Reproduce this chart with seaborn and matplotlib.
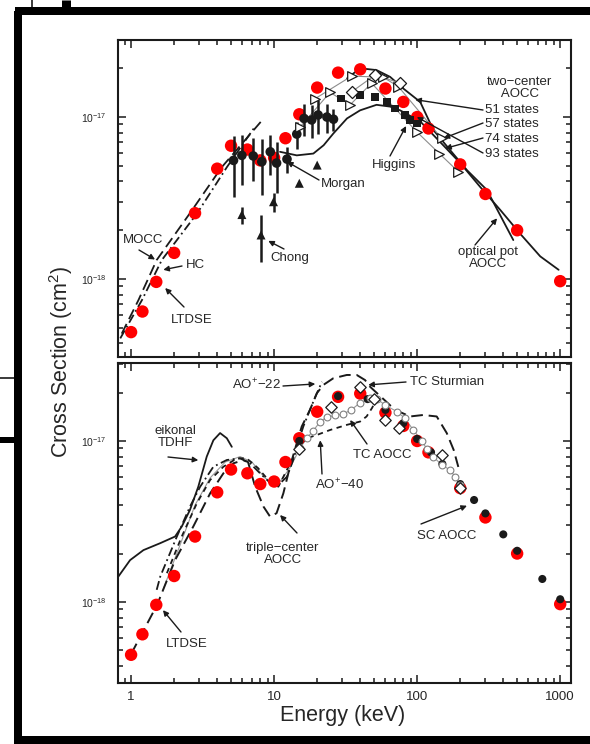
import numpy as np
import pandas as pd
import matplotlib
matplotlib.use("Agg")
import matplotlib.pyplot as plt
from matplotlib.lines import Line2D
from matplotlib.ticker import LogLocator, FixedLocator, FixedFormatter, NullFormatter
import seaborn as sns

# ---------------- data (energy in keV, cross section in cm^2) ----------------
# LTDSE (red dots) - same points in both panels
ltdse_e = [1, 1.2, 1.5, 2, 2.8, 4, 5, 6.5, 8, 10, 12, 15, 20, 28, 40, 60, 80, 100, 120, 200, 300, 500, 1000]
ltdse_s = [4.7e-19, 6.3e-19, 9.6e-19, 1.45e-18, 2.55e-18, 4.8e-18, 6.65e-18, 6.3e-18, 5.4e-18, 5.6e-18,
           7.4e-18, 1.04e-17, 1.52e-17, 1.88e-17, 1.97e-17, 1.5e-17, 1.24e-17, 1.0e-17, 8.5e-18, 5.1e-18,
           3.35e-18, 2.0e-18, 9.7e-19]

# top panel: experiments
morgan_e = [5.2, 5.95, 7.15, 8.2, 9.4, 10.4, 12.3, 14.4, 16.2, 18.3, 20.3, 23.4, 26.0]
morgan_s = [5.4e-18, 5.8e-18, 5.75e-18, 5.3e-18, 6.1e-18, 5.2e-18, 5.5e-18, 7.85e-18, 9.8e-18, 9.6e-18,
            1.03e-17, 1.0e-17, 9.7e-18]
morgan_err = [2.2e-18, 2.0e-18, 1.7e-18, 2.0e-18, 1.7e-18, 1.8e-18, 1.0e-18, 1.5e-18, 2.2e-18, 2.2e-18,
              2.4e-18, 2.0e-18, 1.5e-18]

chong_e = [5.95, 8.1, 9.9, 15.0, 20.0]
chong_s = [2.5e-18, 1.87e-18, 3.0e-18, 3.9e-18, 5.05e-18]
chong_err = [0.3e-18, 0.6e-18, 0.4e-18, 0.0, 0.0]

higgins_e = [29.4, 39.9, 50.9, 61.5, 70.3, 82.4, 89.3, 99.5]
higgins_s = [1.3e-17, 1.37e-17, 1.33e-17, 1.24e-17, 1.13e-17, 1.03e-17, 9.6e-18, 9.1e-18]

# top panel: theory
mocc_e = [0.86, 1.125, 1.51, 2.58, 4.3, 8.2]
mocc_s = [4.6e-19, 7.4e-19, 1.31e-18, 2.55e-18, 4.9e-18, 9.5e-18]
hc_e = [0.84, 1.19, 1.64, 2.9, 4.67, 7.2]
hc_s = [4.3e-19, 7.4e-19, 1.31e-18, 2.55e-18, 4.9e-18, 8.5e-18]

tc51_e = [32.3, 39.9, 52, 64.7, 80, 105, 130, 170, 223, 307, 470]
tc51_s = [1.73e-17, 2.0e-17, 1.95e-17, 1.77e-17, 1.5e-17, 1.24e-17, 8.3e-18, 6.25e-18, 4.7e-18, 3.55e-18, 1.74e-18]
tc57_e = [34.8, 50.9, 76]
tc57_s = [1.43e-17, 1.82e-17, 1.62e-17]
tc74_e = [19.4, 34.8, 58, 74, 148]
tc74_s = [1.3e-17, 1.79e-17, 1.76e-17, 1.54e-17, 7.4e-18]
tc93_e = [15.2, 24.6, 34, 48, 99.5, 143, 194]
tc93_s = [8.7e-18, 1.42e-17, 1.19e-17, 1.62e-17, 8.1e-18, 5.95e-18, 4.6e-18]

optpot_e = [11.0, 14.4, 18.8, 22.2, 25.9, 32.3, 39.9, 52, 64.7, 76, 105, 145, 200, 276, 381, 526, 725, 975]
optpot_s = [6.1e-18, 5.8e-18, 5.95e-18, 6.7e-18, 7.9e-18, 9.8e-18, 1.1e-17, 1.19e-17, 1.16e-17, 1.1e-17,
            9.4e-18, 7.0e-18, 5.2e-18, 3.7e-18, 2.67e-18, 1.9e-18, 1.38e-18, 1.14e-18]

# bottom panel
eik_e = [0.815, 0.984, 1.22, 1.6, 2.03, 2.26, 2.58, 2.95, 3.38, 3.76, 4.19, 4.67, 5.06]
eik_s = [1.44e-18, 1.82e-18, 2.1e-18, 2.32e-18, 2.55e-18, 2.94e-18, 3.73e-18, 5.2e-18, 8.0e-18, 1.01e-17,
         1.12e-17, 1.04e-17, 9.2e-18]

triple_e = [1.0, 1.52, 2.03, 2.72, 3.57, 4.42, 5.19, 6.1, 6.57, 7.37, 8.43, 9.37, 10.4, 11.6, 12.9, 14.4,
            15.6, 17.8, 19.9, 22.1, 25.9, 32.2, 37.8, 43.2, 46.9, 57, 70, 89.3, 110, 137, 161, 180, 194]
triple_s = [4.75e-19, 9.6e-19, 1.82e-18, 2.94e-18, 4.73e-18, 6.3e-18, 7.27e-18, 7.6e-18, 7.4e-18, 5.2e-18,
            3.91e-18, 3.39e-18, 3.56e-18, 4.73e-18, 6.92e-18, 9.7e-18, 1.23e-17, 1.56e-17, 1.98e-17,
            2.23e-17, 2.45e-17, 2.57e-17, 2.57e-17, 2.39e-17, 2.17e-17, 1.85e-17, 1.56e-17, 1.42e-17,
            1.45e-17, 1.42e-17, 1.12e-17, 8.8e-18, 6.9e-18]

ao22_e = [1.51, 1.6, 2.09, 2.58, 3.04, 3.76, 4.67, 5.78, 6.79, 7.97, 9.37, 10.7, 12.3, 13.6, 14.7, 16.0,
          17.8, 19.4, 21.6]
ao22_s = [1.19e-18, 1.44e-18, 2.55e-18, 3.91e-18, 5.2e-18, 6.92e-18, 7.62e-18, 7.8e-18, 7.27e-18, 6.3e-18,
          5.5e-18, 5.33e-18, 6.0e-18, 7.62e-18, 9.7e-18, 1.23e-17, 1.56e-17, 1.88e-17, 2.33e-17]

ao40_e = [1.78, 2.26, 2.88, 3.57, 4.42, 5.49, 6.43, 7.7, 9.1, 10.7, 13.3, 15.2, 16.9, 19.9, 24.6, 32.3,
          39.9, 44.3, 48.3, 51]
ao40_s = [1.51e-18, 2.55e-18, 4.1e-18, 5.73e-18, 6.92e-18, 7.8e-18, 7.8e-18, 6.8e-18, 5.73e-18, 5.2e-18,
          7.6e-18, 9.4e-18, 1.04e-17, 1.09e-17, 1.17e-17, 1.26e-17, 1.32e-17, 1.42e-17, 1.6e-17, 1.75e-17]

tcaocc_e = [1.67, 2.2, 2.8, 3.57, 4.55, 5.78, 7.0, 8.6, 10.5, 12.9, 15.2, 16.9, 18.8, 21.0, 23.5, 26.7,
            30.4, 34.6, 40.0, 47, 52.6, 59.7, 72.4, 82.4, 93.9, 108, 117, 129, 149, 170, 184, 200]
tcaocc_s = [1.19e-18, 2.26e-18, 4.0e-18, 5.9e-18, 7.4e-18, 8.0e-18, 7.4e-18, 5.9e-18, 5.3e-18, 6.8e-18,
            9.05e-18, 1.04e-17, 1.16e-17, 1.32e-17, 1.41e-17, 1.44e-17, 1.47e-17, 1.56e-17, 1.73e-17,
            1.84e-17, 1.82e-17, 1.67e-17, 1.52e-17, 1.38e-17, 1.17e-17, 1.0e-17, 8.9e-18, 8.0e-18,
            7.1e-18, 6.6e-18, 6.0e-18, 5.3e-18]

sturm_e = [15, 25, 40, 50, 60, 75, 150, 200]
sturm_s = [8.9e-18, 1.63e-17, 2.17e-17, 1.82e-17, 1.35e-17, 1.21e-17, 8.2e-18, 5.1e-18]

scaocc_e = [15, 28, 45, 60, 80, 100, 125, 150, 200, 250, 300, 400, 500, 750, 1000]
scaocc_s = [1.0e-17, 1.9e-17, 1.82e-17, 1.56e-17, 1.29e-17, 1.03e-17, 8.5e-18, 7.2e-18, 5.4e-18, 4.3e-18,
            3.55e-18, 2.63e-18, 2.08e-18, 1.39e-18, 1.04e-18]

# ---------------- style ----------------
sns.set_theme(style="ticks")
plt.rcParams["font.family"] = ["Liberation Sans", "DejaVu Sans"]
plt.rcParams["mathtext.default"] = "regular"

W, H = 590, 744
fig = plt.figure(figsize=(W / 100, H / 100), dpi=100)
fig.patch.set_facecolor("white")


def fp(x, y):
    # pixel (from top-left) -> figure fraction
    return (x / W, 1 - y / H)


ax1 = fig.add_axes([118 / W, 1 - 357 / H, 453 / W, 317 / H])
ax2 = fig.add_axes([118 / W, 1 - 683 / H, 453 / W, 320 / H])

dash_long = (0, (6, 3))
dash_short = (0, (3, 2.5))
dash_dot = (0, (5, 2, 1, 2))


def line(ax, e, s, ls="-", color="k", lw=1.3, z=2):
    sns.lineplot(x=e, y=s, ax=ax, color=color, linewidth=lw, linestyle=ls, sort=False,
                 estimator=None, zorder=z)


for ax in (ax1, ax2):
    ax.set_xscale("log")
    ax.set_yscale("log")

# ---- top panel ----
line(ax1, mocc_e, mocc_s, dash_long)
line(ax1, hc_e, hc_s, dash_dot)
line(ax1, optpot_e, optpot_s, "-")
line(ax1, tc51_e, tc51_s, "-")
line(ax1, tc74_e, tc74_s, "-", color="0.55", lw=0.8)
line(ax1, tc93_e, tc93_s, "-", color="0.55", lw=0.8)
line(ax1, tc57_e, tc57_s, "-", color="0.55", lw=0.8)

ax1.errorbar(morgan_e, morgan_s, yerr=morgan_err, fmt="none", ecolor="k", elinewidth=1.8, capsize=0, zorder=3)
ax1.errorbar(chong_e, chong_s, yerr=chong_err, fmt="none", ecolor="k", elinewidth=1.8, capsize=0, zorder=3)

sns.scatterplot(x=ltdse_e, y=ltdse_s, ax=ax1, color="#ff0000", s=80, edgecolor="none", zorder=2)
sns.scatterplot(x=morgan_e, y=morgan_s, ax=ax1, color="k", s=48, edgecolor="none", zorder=4)
sns.scatterplot(x=chong_e, y=chong_s, ax=ax1, color="k", marker="^", s=42, edgecolor="none", zorder=4)
sns.scatterplot(x=higgins_e, y=higgins_s, ax=ax1, color="k", marker="s", s=30, edgecolor="none", zorder=4)
sns.scatterplot(x=tc74_e, y=tc74_s, ax=ax1, color="white", marker=">", s=48, edgecolor="k", linewidth=0.9, zorder=4)
sns.scatterplot(x=tc93_e, y=tc93_s, ax=ax1, color="white", marker=">", s=48, edgecolor="k", linewidth=0.9, zorder=4)
sns.scatterplot(x=tc57_e, y=tc57_s, ax=ax1, color="white", marker="D", s=38, edgecolor="k", linewidth=0.9, zorder=4)

# ---- bottom panel ----
line(ax2, eik_e, eik_s, "-")
line(ax2, tcaocc_e, tcaocc_s, "-", color="0.6", lw=0.8)
line(ax2, triple_e, triple_s, dash_long, lw=1.4)
line(ax2, ao40_e, ao40_s, dash_short)
line(ax2, ao22_e, ao22_s, dash_dot)

sns.scatterplot(x=ltdse_e, y=ltdse_s, ax=ax2, color="#ff0000", s=80, edgecolor="none", zorder=3)
sns.scatterplot(x=scaocc_e, y=scaocc_s, ax=ax2, color="k", s=34, edgecolor="none", zorder=4)
tc_marks = [(e, s) for e, s in zip(tcaocc_e, tcaocc_s) if e >= 15]
sns.scatterplot(x=[p[0] for p in tc_marks], y=[p[1] for p in tc_marks], ax=ax2, color="white", s=24,
                edgecolor="0.5", linewidth=0.8, zorder=4)
sns.scatterplot(x=sturm_e, y=sturm_s, ax=ax2, color="white", marker="D", s=34, edgecolor="k", linewidth=0.9,
                zorder=5)

# ---- axes cosmetics ----
for ax, ylim in ((ax1, (3.3e-19, 2.99e-17)), (ax2, (3.14e-19, 3.05e-17))):
    ax.set_xlim(0.81, 1190)
    ax.set_ylim(*ylim)
    ax.xaxis.set_major_locator(FixedLocator([1, 10, 100, 1000]))
    ax.xaxis.set_minor_locator(LogLocator(base=10, subs=np.arange(2, 10)))
    ax.yaxis.set_major_locator(FixedLocator([1e-18, 1e-17]))
    ax.yaxis.set_major_formatter(FixedFormatter(["10$^{-18}$", "10$^{-17}$"]))
    ax.yaxis.set_minor_locator(LogLocator(base=10, subs=np.arange(2, 10)))
    ax.yaxis.set_minor_formatter(NullFormatter())
    ax.xaxis.set_minor_formatter(NullFormatter())
    ax.tick_params(which="both", direction="in", top=True, right=True, color="k", width=1.1)
    ax.tick_params(which="major", length=6)
    ax.tick_params(which="minor", length=3.5)
    ax.tick_params(axis="y", labelsize=7.5, pad=8)
    ax.tick_params(axis="x", labelsize=9.5, pad=6)
    for sp in ax.spines.values():
        sp.set_linewidth(1.5)
        sp.set_color("k")
    ax.set_xlabel("")
    ax.set_ylabel("")
    ax.set_facecolor("white")
ax1.set_xticklabels([])
ax2.set_xticklabels(["1", "10", "100", "1000"])

fig.text(*fp(343, 716), "Energy (keV)", fontsize=15.5, ha="center", va="center")
fig.text(*fp(61, 362), "Cross Section (cm$^2$)", fontsize=15.5, rotation=90, ha="center", va="center")

# ---- labels and arrows ----
fs = 9.5


def label(x, y, txt, ha="center"):
    fig.text(*fp(x, y), txt, fontsize=fs, ha=ha, va="center", linespacing=0.95)


def arrow(ax, start, tip):
    ax.annotate("", xy=tip, xycoords="data", xytext=fp(*start), textcoords="figure fraction",
                arrowprops=dict(arrowstyle="-|>", color="k", lw=1.0, mutation_scale=8,
                                shrinkA=0, shrinkB=0), zorder=6)


label(519, 88, "two\u2212center\n AOCC")
label(485, 110, "51 states", ha="left")
label(485, 124, "57 states", ha="left")
label(485, 139, "74 states", ha="left")
label(485, 154, "93 states", ha="left")
arrow(ax1, (483, 110), (97, 1.28e-17))
arrow(ax1, (483, 123), (153, 7.4e-18))
arrow(ax1, (483, 138), (157, 6.4e-18))
arrow(ax1, (483, 153), (99.5, 1.0e-17))
label(394, 165, "Higgins")
arrow(ax1, (390, 156), (83.7, 8.8e-18))
label(343, 184, "Morgan")
arrow(ax1, (319, 180), (12.3, 5.3e-18))
label(290, 258, "Chong")
arrow(ax1, (284, 249), (9.1, 1.72e-18))
label(143, 240, "MOCC")
arrow(ax1, (139, 250), (1.47, 1.32e-18))
label(195, 265, "HC")
arrow(ax1, (182, 266), (1.68, 1.14e-18))
label(192, 320, "LTDSE")
arrow(ax1, (184, 307), (1.73, 8.8e-19))
label(488, 258, "optical pot\nAOCC")
arrow(ax1, (475, 245), (362, 2.37e-18))

label(256, 385, "AO$^{+}$\u221222")
arrow(ax2, (283, 386), (19.4, 2.26e-17))
label(410, 382, "TC Sturmian", ha="left")
arrow(ax2, (406, 382), (45.5, 2.23e-17))
label(382, 455, "TC AOCC")
arrow(ax2, (367, 444), (34, 1.35e-17))
label(339, 485, "AO$^{+}$\u221240")
arrow(ax2, (322, 474), (21, 1.01e-17))
label(175, 437, "eikonal\nTDHF")
arrow(ax2, (168, 457), (2.95, 7.6e-18))
label(283, 554, "triple\u2212center\nAOCC")
arrow(ax2, (297, 533), (11, 3.47e-18))
label(447, 536, "SC AOCC")
arrow(ax2, (421, 524), (223, 3.96e-18))
label(187, 644, "LTDSE")
arrow(ax2, (181, 632), (1.67, 8.9e-19))

# ---- outer screenshot frame ----
frame = [((15, 11), (590, 11), 8), ((18, 11), (18, 744), 8), ((15, 740), (590, 740), 8),
         ((32, 0), (32, 11), 1.5), ((66, 0), (66, 11), 9), ((0, 378), (18, 378), 1.5),
         ((0, 440), (18, 440), 6)]
for (x0, y0), (x1, y1), w in frame:
    p0, p1 = fp(x0, y0), fp(x1, y1)
    fig.add_artist(Line2D([p0[0], p1[0]], [p0[1], p1[1]], color="black", lw=w * 0.72,
                          transform=fig.transFigure, solid_capstyle="butt"))

fig.savefig("out.png", dpi=100, facecolor="white")
